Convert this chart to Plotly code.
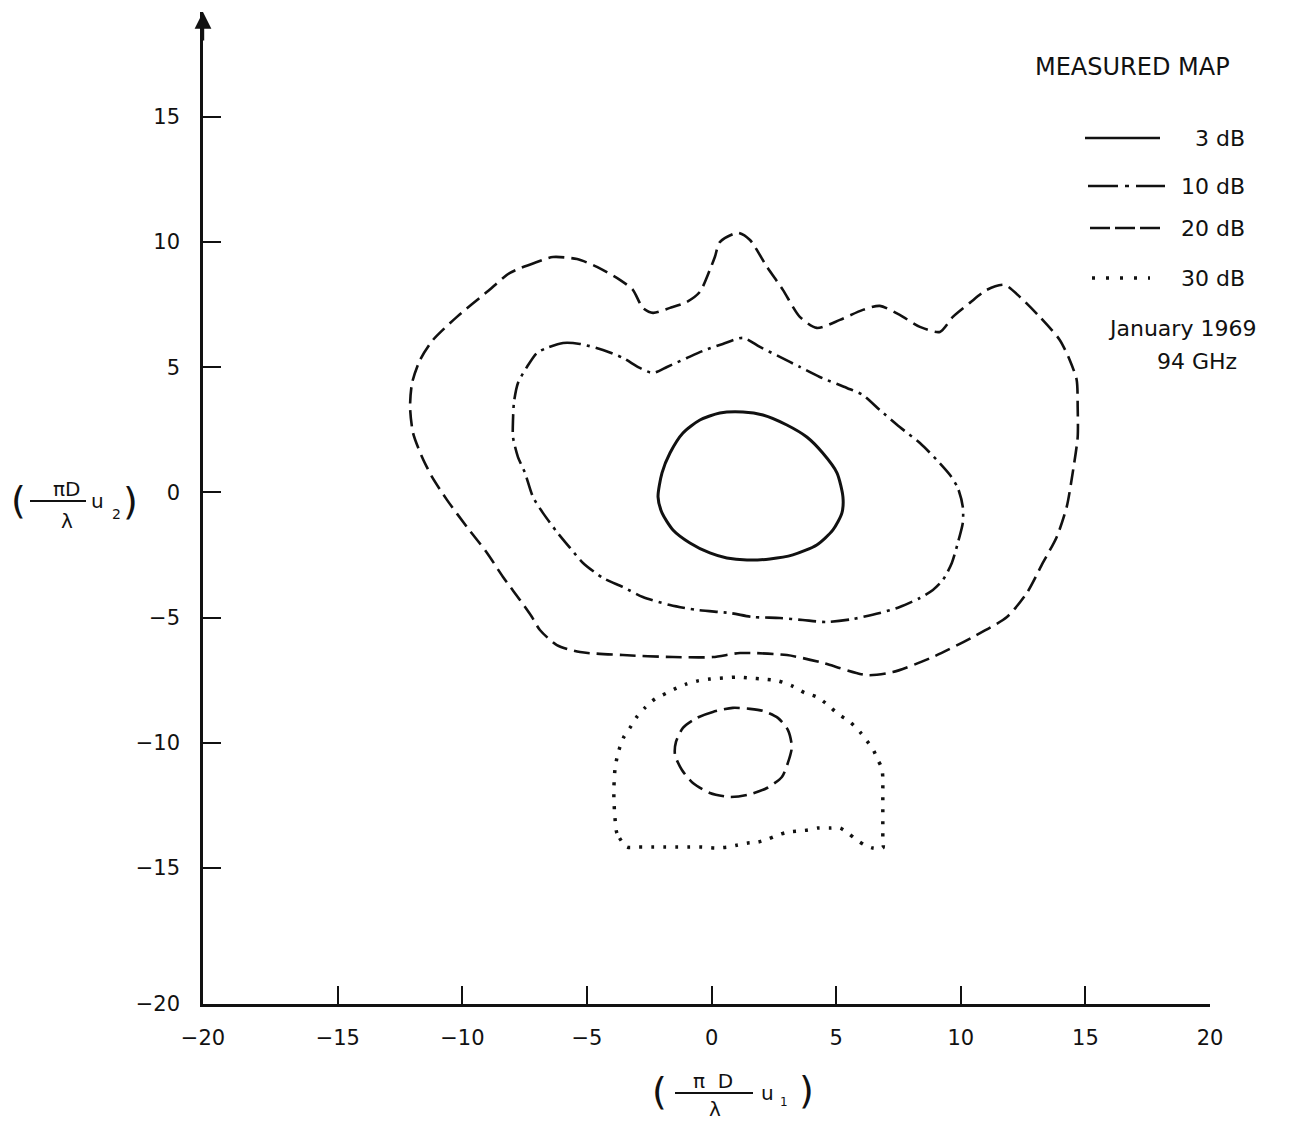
import plotly.graph_objects as go

# ---------------- data ----------------
c3_x = [1.26, 2.06, 3.02, 3.82, 4.46, 5.03, 5.27, 5.23, 4.87, 4.22, 3.26, 2.34, 1.42, 0.61,
        -0.07, -0.87, -1.55, -1.99, -2.15, -1.99, -1.67, -1.15, -0.47, 0.33, 1.26]
c3_y = [3.21, 3.09, 2.69, 2.21, 1.57, 0.78, -0.18, -0.82, -1.50, -2.10, -2.50, -2.66, -2.70, -2.62,
        -2.42, -2.02, -1.50, -0.82, -0.18, 0.78, 1.57, 2.37, 2.89, 3.17, 3.21]

c10_x = [-6.61, -5.96, -5.28, -4.36, -3.56, -2.88, -2.35, -1.79, -0.99, -0.35, 0.45, 1.26, 1.94,
         2.74, 3.54, 4.34, 5.43, 6.07, 6.75, 7.55, 8.36, 9.04, 9.56, 9.88, 10.08, 10.08, 9.88,
         9.64, 9.28, 8.88, 8.36, 7.55, 6.75, 5.67, 4.62, 3.66, 2.74, 1.66, 0.73, -0.59, -1.67,
         -2.76, -3.56, -4.36, -5.16, -5.68, -6.21, -6.77, -7.17, -7.49, -7.77, -7.97, -7.97,
         -7.93, -7.77, -7.41, -7.01, -6.61]
c10_y = [5.77, 5.97, 5.93, 5.69, 5.37, 4.97, 4.77, 5.01, 5.37, 5.65, 5.93, 6.17, 5.81,
         5.41, 5.01, 4.61, 4.17, 3.89, 3.29, 2.61, 1.97, 1.29, 0.70, 0.18, -0.58, -1.22, -2.02,
         -2.82, -3.50, -3.90, -4.22, -4.58, -4.82, -5.06, -5.18, -5.10, -5.02, -4.98, -4.82, -4.70, -4.50,
         -4.18, -3.78, -3.42, -2.82, -2.22, -1.58, -0.82, -0.18, 0.78, 1.41, 2.21, 2.89,
         3.61, 4.37, 5.01, 5.57, 5.77]

c20_x = [-6.37, -7.01, -8.09, -9.01, -10.22, -11.18, -11.70, -12.02, -12.10, -11.98, -11.62,
         -11.22, -10.62, -9.82, -9.01, -8.37, -7.69, -7.21, -6.89, -6.21, -5.28, -3.56, -1.55,
         0.05, 1.14, 3.02, 4.34, 6.23, 7.27, 8.88, 10.48, 11.85, 12.65, 13.29, 13.85, 14.25,
         14.49, 14.69, 14.69, 14.65, 14.37, 13.97, 13.17, 12.37, 11.76, 11.04, 10.36, 9.68,
         9.16, 8.36, 7.55, 6.75, 6.07, 5.15, 4.22, 3.54, 2.86, 2.22, 1.54, 1.05, 0.33, 0.13,
         -0.07, -0.47, -0.99, -1.67, -2.35, -2.76, -3.16, -3.68, -4.60, -5.40, -6.37]
c20_y = [9.40, 9.20, 8.77, 8.01, 7.01, 6.09, 5.29, 4.37, 3.41, 2.37, 1.41,
         0.62, -0.30, -1.38, -2.42, -3.38, -4.30, -4.98, -5.50, -6.10, -6.38, -6.50, -6.58,
         -6.58, -6.42, -6.50, -6.78, -7.30, -7.18, -6.58, -5.78, -4.98, -4.02, -2.82, -1.78, -0.58,
         0.78, 2.21, 3.41, 4.49, 5.29, 6.09, 7.01, 7.81, 8.29, 8.09, 7.57, 7.01,
         6.41, 6.61, 7.09, 7.45, 7.29, 6.89, 6.57, 7.01, 8.09, 9.01, 10.08, 10.37, 10.00, 9.40,
         8.89, 8.01, 7.61, 7.37, 7.17, 7.37, 8.09, 8.49, 9.01, 9.32, 9.40]

c20b_x = [0.85, 0.05, -0.59, -1.15, -1.43, -1.47, -1.19, -0.75, -0.07, 0.73, 1.42, 2.22,
          2.82, 3.06, 3.22, 3.06, 2.66, 2.06, 1.54, 0.85]
c20b_y = [-8.61, -8.77, -9.01, -9.41, -9.97, -10.49, -11.09, -11.61, -12.01, -12.17, -12.09,
          -11.81, -11.37, -10.81, -10.17, -9.49, -9.01, -8.73, -8.65, -8.61]

c30_x = [-3.40, -3.80, -3.88, -3.92, -3.92, -3.88, -3.80, -3.68, -3.52, -3.28, -3.00, -2.68,
         -2.27, -1.79, -1.39, -0.99, -0.55, -0.07, 0.45, 1.01, 1.54, 2.06, 2.66, 3.22, 3.74,
         4.22, 4.66, 5.07, 5.55, 5.95, 6.23, 6.47, 6.67, 6.83, 6.87, 6.87, 6.87, 6.87, 6.87,
         6.87, 6.87, 6.47, 6.15, 5.83, 5.47, 5.15, 4.75, 4.26, 3.86, 3.46, 3.06, 2.66, 2.26,
         1.86, 1.46, 1.05, 0.65, 0.13, -0.39, -0.95, -1.39, -1.87, -2.39, -2.92, -3.40]
c30_y = [-14.17, -13.61, -12.97, -12.29, -11.77, -11.09, -10.61, -10.17, -9.77, -9.41, -8.97, -8.61,
         -8.25, -8.01, -7.81, -7.65, -7.53, -7.46, -7.42, -7.38, -7.42, -7.46, -7.53, -7.73, -8.01,
         -8.17, -8.49, -8.85, -9.17, -9.57, -9.93, -10.25, -10.69, -11.01, -11.41, -11.89, -12.37,
         -12.89, -13.41, -13.81, -14.21, -14.21, -14.09, -13.89, -13.61, -13.41, -13.41, -13.41,
         -13.49, -13.53, -13.57, -13.69, -13.85, -13.97, -14.01, -14.09, -14.17, -14.21, -14.17,
         -14.17, -14.17, -14.17, -14.17, -14.17, -14.17]

tick_vals = [-20, -15, -10, -5, 0, 5, 10, 15, 20]
tick_text = ["\u221220", "\u221215", "\u221210", "\u22125", "0", "5", "10", "15", "20"]
legend_labels = ["3 dB", "10 dB", "20 dB", "30 dB"]
title_text = "MEASURED MAP"
date_text = "January 1969"
freq_text = "94 GHz"

# ---------------- styles ----------------
FONT = "DejaVu Sans"
INK = "#111111"
DASH_20 = "16px,7px"
DASH_10 = "18px,6px,3px,6px"
DASH_30 = "3px,9px"

fig = go.Figure()

def contour(xs, ys, name, dash, width):
    fig.add_trace(go.Scatter(x=xs, y=ys, mode="lines", name=name, showlegend=False,
                             line=dict(color=INK, width=width, dash=dash,
                                       shape="spline", smoothing=0.7),
                             hoverinfo="skip"))

contour(c20_x, c20_y, "20 dB", DASH_20, 2.6)
contour(c10_x, c10_y, "10 dB", DASH_10, 2.6)
contour(c3_x, c3_y, "3 dB", "solid", 3)
contour(c20b_x, c20b_y, "20 dB", DASH_20, 2.6)
contour(c30_x, c30_y, "30 dB", DASH_30, 3.5)

# ---------------- layout geometry (pixels) ----------------
W, H = 1291, 1124
L, R, T, B = 203, 81, 12, 120
PW, PH = W - L - R, H - T - B

def pxx(p):
    return (p - L) / PW

def pxy(p):
    return (H - B - p) / PH

annotations = []
shapes = []

def text(s, x, y, size, xanchor="center", yanchor="middle"):
    annotations.append(dict(text=s, x=pxx(x), y=pxy(y), xref="paper", yref="paper",
                            showarrow=False, xanchor=xanchor, yanchor=yanchor,
                            font=dict(family=FONT, size=size, color=INK)))

def seg(x0, x1, y, dash="solid", width=2.4):
    shapes.append(dict(type="line", xref="paper", yref="paper",
                       x0=pxx(x0), x1=pxx(x1), y0=pxy(y), y1=pxy(y),
                       line=dict(color=INK, width=width, dash=dash)))

# legend block
text(title_text, 1132, 67, 24)
legend_rows = [(138, 1085, 1160, "solid", 2.4),
               (186, 1088, 1165, "30px,7px,4px,7px", 2.4),
               (228, 1090, 1160, "20px,5px", 2.4),
               (278, 1092, 1150, "3px,11px", 3.5)]
for lab, (yy, x0, x1, dsh, wd) in zip(legend_labels, legend_rows):
    seg(x0, x1, yy, dsh, wd)
    text(lab, 1247, yy, 22, xanchor="right")
text(date_text, 1182, 328, 22)
text(freq_text, 1197, 361, 22)

# y-axis title  ( πD/λ u2 )
text("(", 18, 500, 38)
text("πD", 66, 489, 20)
seg(30, 86, 501, width=2)
text("λ", 67, 521, 20)
text("u", 97, 501, 20)
text("2", 116, 514, 14)
text(")", 130, 501, 38)

# x-axis title  ( π D/λ u1 )
text("(", 659, 1091, 38)
text("π  D", 713, 1081, 20)
seg(675, 753, 1093, width=2)
text("λ", 715, 1109, 20)
text("u", 767, 1093, 20)
text("1", 784, 1102, 12)
text(")", 806, 1090, 38)

x_lo, x_hi = -20.41, 20.0
y_lo, y_hi = -20.44, 19.19

# the hand-drawn axes meet at the labelled (-20, -20) corner
x_ticks = [x_lo if v == tick_vals[0] else v for v in tick_vals]
y_ticks = [y_lo if v == tick_vals[0] else v for v in tick_vals]

# arrow on top of the vertical axis
annotations.append(dict(x=x_lo, y=y_hi, ax=x_lo, ay=y_hi - 1.2, xref="x", yref="y",
                        axref="x", ayref="y", text="", showarrow=True, arrowhead=2,
                        arrowsize=1.4, arrowwidth=2.4, arrowcolor=INK))

axis_common = dict(showgrid=False, zeroline=False, showline=True, linecolor=INK, linewidth=2.5,
                   ticks="inside", ticklen=18, tickwidth=2, tickcolor=INK,
                   ticktext=tick_text, tickfont=dict(family=FONT, size=21, color=INK),
                   fixedrange=True)

fig.update_layout(
    width=W, height=H,
    margin=dict(l=L, r=R, t=T, b=B, pad=0),
    paper_bgcolor="white", plot_bgcolor="white",
    xaxis=dict(range=[x_lo, x_hi], tickvals=x_ticks, ticklabelstandoff=13, **axis_common),
    yaxis=dict(range=[y_lo, y_hi], tickvals=y_ticks, ticklabelstandoff=16, **axis_common),
    annotations=annotations, shapes=shapes,
    showlegend=False,
)

fig.write_html("out.html", config={"displayModeBar": False},
               post_script="document.body.style.margin='0';")
